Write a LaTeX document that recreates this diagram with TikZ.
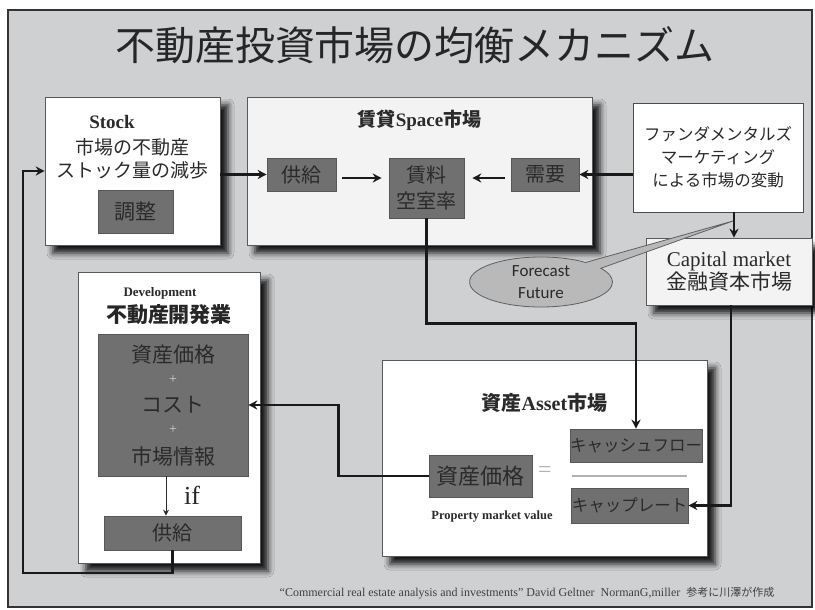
\documentclass[tikz,border=0pt]{standalone}
\usepackage{fontspec}
\setmainfont{Liberation Serif}
\newfontfamily\jp{Noto Sans CJK JP}
\newfontfamily\calfont{Carlito}
\usetikzlibrary{shapes.geometric,shapes.callouts,arrows.meta,shadows.blur,calc}
\definecolor{bg}{HTML}{CFD0D2}
\definecolor{dk}{HTML}{707070}
\definecolor{dkline}{HTML}{575757}
\definecolor{txt}{HTML}{2A2A2A}
\definecolor{ln}{HTML}{1A1A1A}
\definecolor{pale}{HTML}{F3F3F3}
\definecolor{frame}{HTML}{333333}
\newcommand\fsz[2]{\fontsize{#1}{#2}\selectfont}
\begin{document}
\begin{tikzpicture}[x=1pt,y=-1pt,
 wh/.style 2 args={minimum width=#1pt, minimum height=#2pt},
 wbox/.style={draw=gray!70!black, line width=0.6pt, fill=white, inner sep=0pt,
   blur shadow={shadow xshift=8pt, shadow yshift=-8pt, shadow blur radius=6pt, shadow opacity=90}},
 dbox/.style={draw=dkline, line width=0.6pt, fill=dk, text=txt, inner sep=0pt},
 conn/.style={line width=2.6pt, draw=ln, -{Stealth[length=9pt,width=9pt]}},
 lbl/.style={inner sep=0pt, text=txt},
]
\useasboundingbox (0,0) rectangle (815,610);
\fill[white] (0,0) rectangle (815,610);
\draw[line width=2pt, draw=frame, fill=bg] (8,10) rectangle (812,607);

% title
\node[inner sep=0pt, text=black!85, font=\jp\fsz{40}{44}] (title) at (415,45) {不動産投資市場の均衡メカニズム};

% Stock box
\node[wbox, wh={175}{148}] (stock) at (132.5,171) {};
\node[lbl, font=\bfseries\fsz{19}{21}] (stockt) at (112,122) {Stock};
\node[lbl, font=\jp\fsz{19}{21}] (stock1) at (132.5,147) {市場の不動産};
\node[lbl, font=\jp\fsz{19}{21}] (stock2) at (132.5,170) {ストック量の減歩};
\node[dbox, wh={75}{43}, font=\jp\fsz{21}{23}] (adj) at (135.5,211.5) {調整};

% Space market
\node[wbox, fill=pale, wh={345}{148}] (space) at (419.5,171) {};
\node[lbl, font=\jp\bfseries\fsz{19}{21}] (spacet) at (419.5,120) {賃貸{\rmfamily Space}市場};
\node[dbox, wh={69}{33}, font=\jp\fsz{20}{22}] (sup1) at (301.5,174.5) {供給};
\node[dbox, wh={75}{60}, font=\jp\fsz{20}{26}, align=center] (rent) at (426.5,188) {賃料\\空室率};
\node[dbox, wh={68}{33}, font=\jp\fsz{20}{22}] (dem) at (545,174.5) {需要};

% Fundamentals
\node[draw=gray!60!black, line width=0.7pt, fill=white, wh={170}{109}, inner sep=0pt,
  align=center, text=txt, font=\jp\fsz{16.5}{23}] (fund) at (718,157.5)
  {ファンダメンタルズ\\マーケティング\\による市場の変動};

% Capital market
\node[wbox, fill=pale, wh={166}{67}, align=center, text=txt, font=\fsz{21}{23}] (cap) at (729,271.5)
  {Capital market\\{\jp 金融資本市場}};

% Development
\node[wbox, wh={182}{291}] (dev) at (169,417.5) {};
\node[lbl, font=\bfseries\fsz{13}{15}] (devt) at (160,293) {Development};
\node[lbl, font=\jp\bfseries\fsz{21}{23}, text=black!85] (devj) at (169,315) {不動産開発業};
\node[dbox, wh={150}{142}] (big) at (173,405) {};
\node[lbl, font=\jp\fsz{21}{23}] (big1) at (173,355) {資産価格};
\node[lbl, font=\fsz{14}{16}, text=gray!35] (big2) at (173,380) {+};
\node[lbl, font=\jp\fsz{21}{23}] (big3) at (173,405) {コスト};
\node[lbl, font=\fsz{14}{16}, text=gray!35] (big4) at (173,430) {+};
\node[lbl, font=\jp\fsz{21}{23}] (big5) at (173,457) {市場情報};
\node[dbox, wh={137}{34}, font=\jp\fsz{20}{22}] (sup2) at (172.5,533) {供給};
\node[lbl, font=\fsz{26}{28}, text=black!85] (iftxt) at (192,495) {if};

% Asset market
\node[wbox, wh={325}{196}] (asset) at (544.5,458) {};
\node[lbl, font=\jp\bfseries\fsz{20}{22}] (assett) at (544.5,403) {資産{\rmfamily Asset}市場};
\node[dbox, wh={103}{42}, font=\jp\fsz{22}{24}] (price) at (480.5,476) {資産価格};
\node[lbl, font=\fsz{24}{26}, text=gray!60] (eq) at (545,472) {=};
\node[lbl, font=\bfseries\fsz{12.5}{14}] (pmv) at (492,517) {Property market value};
\node[dbox, wh={130}{33}, font=\jp\fsz{16.5}{18}] (cf) at (636,445.5) {キャッシュフロー};
\node[dbox, wh={117}{35}, font=\jp\fsz{16.5}{18}] (cr) at (629.5,505.5) {キャップレート};
\coordinate (fl1) at (572,476);
\coordinate (fl2) at (687,476);
\draw[gray!60, line width=1.2pt] (fl1) -- (fl2);

% Forecast callout
\node[ellipse callout, callout absolute pointer={(733,221)}, callout pointer arc=18,
  fill=gray!55, draw=gray!75!black, line width=0.8pt, wh={143}{50}, inner sep=0pt,
  align=center, font=\calfont\fsz{17}{22}, text=txt] (fc) at (541,282) {Forecast\\Future};

% connectors
\draw[conn] (stock.east |- sup1.west) -- (sup1.west);
\draw[conn, shorten <=6pt, shorten >=7pt] ([yshift=-3.5pt]sup1.east) -- ([yshift=-3.5pt]sup1.east -| rent.west);
\draw[conn, shorten <=6pt, shorten >=8pt] ([yshift=-3.5pt]dem.west) -- ([yshift=-3.5pt]dem.west -| rent.east);
\draw[conn] (fund.west |- dem.east) -- (dem.east);
\draw[conn] ([xshift=16pt]fund.south) -- ([xshift=16pt]fund.south |- cap.north);
\draw[conn] (rent.south) -- ++(0,105) -| (cf.north);
\draw[conn] ([xshift=2pt]cap.south) |- (cr.east);
\draw[conn] (price.west) -- ++(-90,0) |- (big.east);
\draw[line width=0.9pt, draw=txt, -{Stealth[length=6pt,width=6pt]}] ([xshift=-7pt]big.south) -- ([xshift=-7pt]big.south |- sup2.north);
\coordinate (lp) at (23,573);
\draw[conn] (sup2.south) |- (lp) |- (stock.west);

% footnote
\node[lbl, font=\fsz{12}{14}, text=black!75] (foot) at (527,593)
  {\char"201C Commercial real estate analysis and investments\char"201D\ David Geltner\ \ NormanG,miller\ \ {\jp\fsz{11}{12}参考に川澤が作成}};
\end{tikzpicture}
\end{document}
